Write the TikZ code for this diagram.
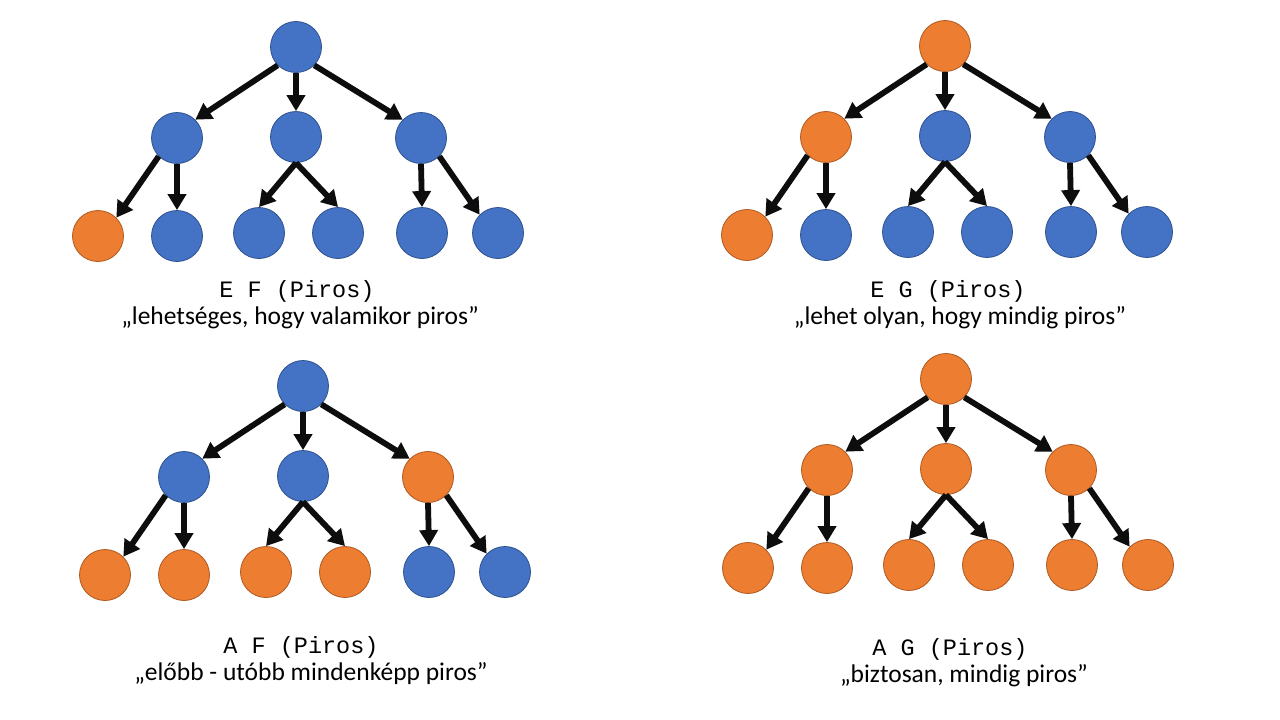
\documentclass[tikz,border=0pt]{standalone}
\usepackage{fontspec}
\setmainfont{Carlito}
\newfontfamily\courfont{Liberation Mono}
\usetikzlibrary{arrows.meta}
\definecolor{nblue}{HTML}{4472C4}
\definecolor{nblueb}{HTML}{2F528F}
\definecolor{norange}{HTML}{ED7D31}
\definecolor{norangeb}{HTML}{AE5A21}
\definecolor{arrowc}{HTML}{0D0D0D}
\tikzset{
  treenode/.style={circle,minimum size=51pt,inner sep=0pt,line width=0.8pt},
  B/.style={treenode,fill=nblue,draw=nblueb},
  O/.style={treenode,fill=norange,draw=norangeb},
  edgearrow/.style={draw=arrowc,line width=5.8pt,-{Triangle[length=16pt,width=18pt]}},
  ctlabel/.style={anchor=base,font=\courfont\fontsize{23.5}{28}\selectfont},
  qlabel/.style={anchor=base,font=\fontsize{25.5}{30}\selectfont}
}
\newcommand\mytree[7]{%
  \begin{scope}[shift={(#2,#3)}]
    \node[#4] (#1r) at (0,0) {};
    \node[#5] (#1a) at (-119,91) {};
    \node[#6] (#1b) at (0,90) {};
    \node[#7] (#1c) at (125,91) {};
  \end{scope}}
\newcommand\myleaves[9]{%
  \begin{scope}[shift={(#2,#3)}]
    \node[#4] (#1l1) at (-198,189) {};
    \node[#5] (#1l2) at (-119,189) {};
    \node[#6] (#1l3) at (-37,186) {};
    \node[#7] (#1l4) at (42,186) {};
    \node[#8] (#1l5) at (126,186) {};
    \node[#9] (#1l6) at (202,186) {};
  \end{scope}
  \draw[edgearrow] (#1r.south west) -- (#1a.north east);
  \draw[edgearrow] (#1r.south) -- (#1b.north);
  \draw[edgearrow] (#1r.south east) -- (#1c.north west);
  \draw[edgearrow] (#1a.south west) -- (#1l1.north east);
  \draw[edgearrow] (#1a.south) -- (#1l2.north);
  \draw[edgearrow] (#1b.south) -- (#1l3.north);
  \draw[edgearrow] (#1b.south) -- (#1l4.north);
  \draw[edgearrow] (#1c.south) -- (#1l5.north);
  \draw[edgearrow] (#1c.south east) -- (#1l6.north west);}
\begin{document}
\begin{tikzpicture}[x=1pt,y=-1pt]
\useasboundingbox[fill=white] (0,0) rectangle (1280,720);
% tree 1: E F
\mytree{p}{296}{47}{B}{B}{B}{B}
\myleaves{p}{296}{47}{O}{B}{B}{B}{B}{B}
% tree 2: E G
\mytree{q}{945}{46}{O}{O}{B}{B}
\myleaves{q}{945}{46}{O}{B}{B}{B}{B}{B}
% tree 3: A F
\mytree{s}{303}{386}{B}{B}{B}{O}
\myleaves{s}{303}{386}{O}{O}{O}{O}{B}{B}
% tree 4: A G
\mytree{t}{946}{379}{O}{O}{O}{O}
\myleaves{t}{946}{379}{O}{O}{O}{O}{O}{O}
% labels
\node[ctlabel] (pt) at (297,297) {E F (Piros)};
\node[qlabel] (pq) at (300,324) {„lehetséges, hogy valamikor piros”};
\node[ctlabel] (qt) at (948,297) {E G (Piros)};
\node[qlabel] (qq) at (960,324) {„lehet olyan, hogy mindig piros”};
\node[ctlabel] (st) at (301,653) {A F (Piros)};
\node[qlabel] (sq) at (311,680) {„előbb - utóbb mindenképp piros”};
\node[ctlabel] (tt) at (950,655) {A G (Piros)};
\node[qlabel] (tq) at (964,682) {„biztosan, mindig piros”};
\end{tikzpicture}
\end{document}
